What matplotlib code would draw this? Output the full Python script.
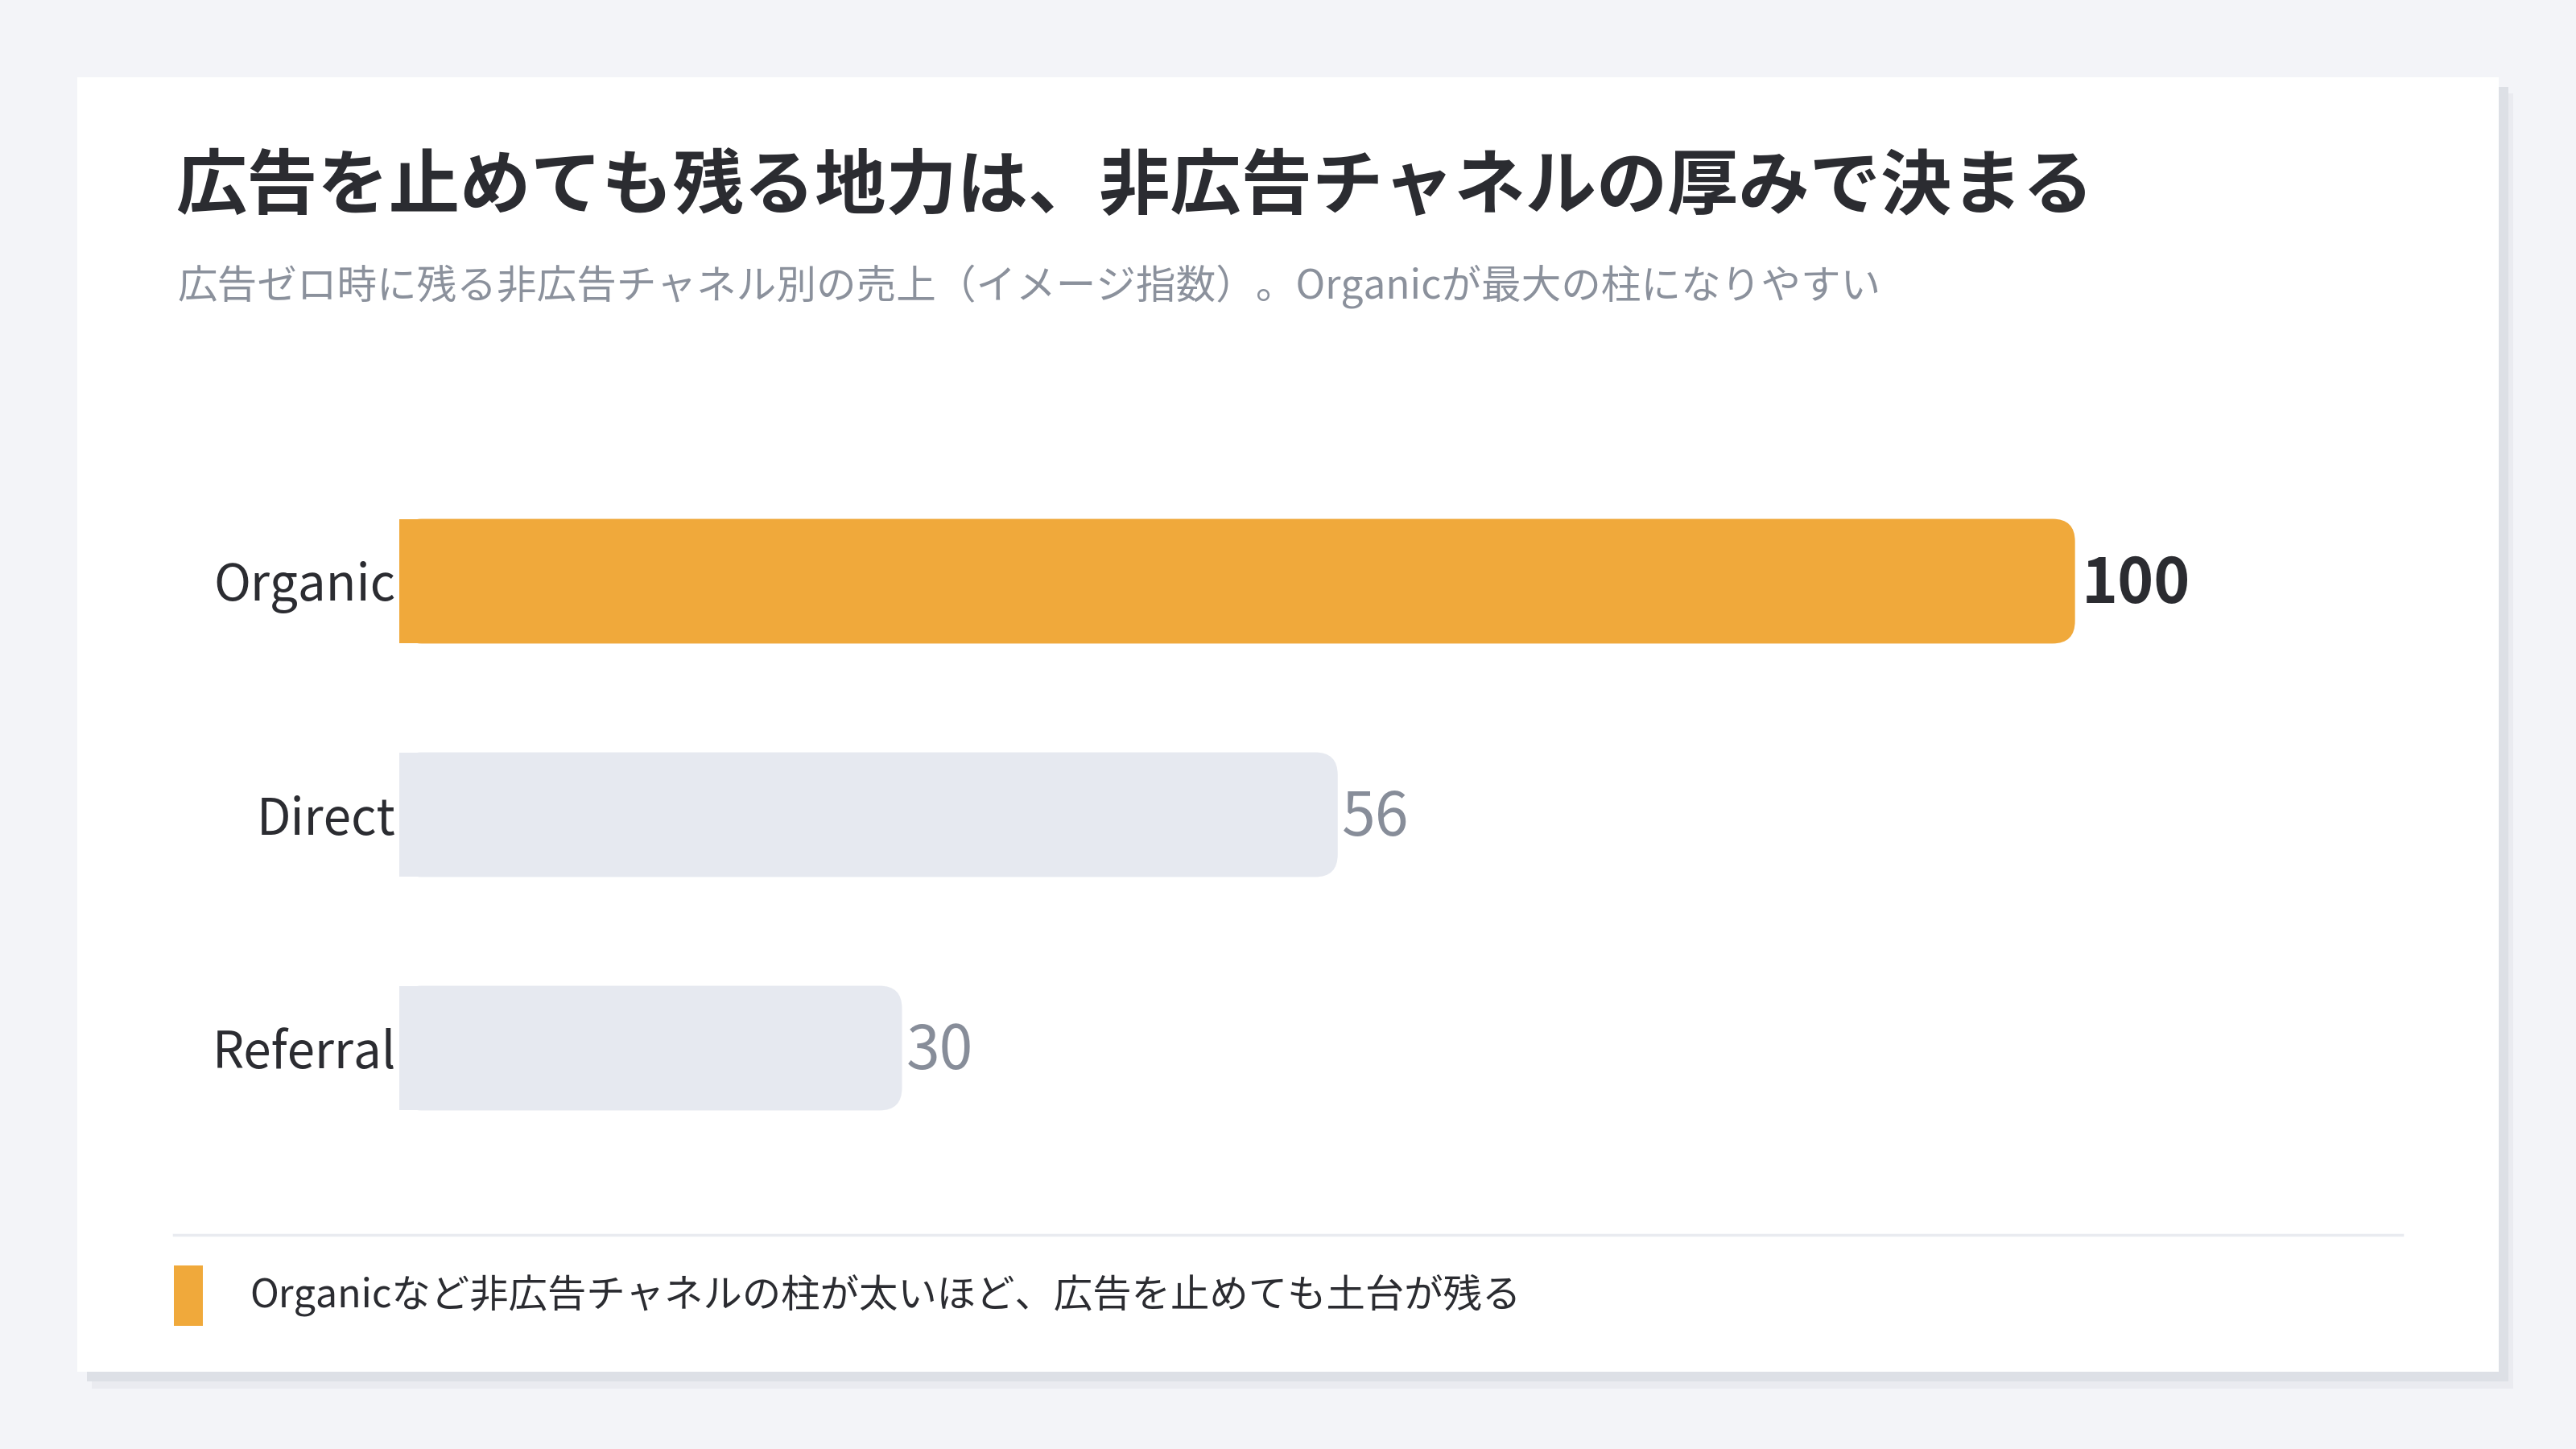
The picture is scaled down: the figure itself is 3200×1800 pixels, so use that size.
import matplotlib
matplotlib.use("Agg")
import matplotlib.pyplot as plt
from matplotlib.patches import Rectangle, FancyBboxPatch
from matplotlib.lines import Line2D

# ---- data ----
categories = ["Organic", "Direct", "Referral"]
values = [100, 56, 30]
title = "広告を止めても残る地力は、非広告チャネルの厚みで決まる"
subtitle = "広告ゼロ時に残る非広告チャネル別の売上（イメージ指数）。Organicが最大の柱になりやすい"
footer = "Organicなど非広告チャネルの柱が太いほど、広告を止めても土台が残る"

FONT = ["Noto Sans CJK JP", "DejaVu Sans"]
plt.rcParams["font.family"] = FONT

W, H = 3200, 1800
DPI = 100
fig = plt.figure(figsize=(W / DPI, H / DPI), dpi=DPI)
fig.patch.set_facecolor("#f3f4f8")

def fx(px):
    return px / W

def fy(py):
    return 1 - py / H

def frect(x0, y0, x1, y1, **kw):
    r = Rectangle((fx(x0), fy(y1)), fx(x1) - fx(x0), fy(y0) - fy(y1),
                  transform=fig.transFigure, **kw)
    fig.add_artist(r)
    return r

# card shadow + card
frect(96 + 18, 96 + 20, 3104 + 18, 1704 + 21, facecolor="#eaebf0", edgecolor="none", zorder=0)
frect(96 + 12, 96 + 12, 3104 + 12, 1704 + 12, facecolor="#dde0e6", edgecolor="none", zorder=0.5)
frect(96, 96, 3104, 1704, facecolor="white", edgecolor="none", zorder=1)

# title / subtitle
fig.text(fx(218), fy(234), title, fontsize=63.5, fontweight="bold", color="#2b2c31",
         va="center", ha="left", zorder=3)
fig.text(fx(220), fy(356), subtitle, fontsize=35.7, color="#8b919c",
         va="center", ha="left", zorder=3)

# axes for bars
ax_left, ax_right = 496, 2994
ax_top, ax_bot = 577, 1447
ax = fig.add_axes([fx(ax_left), fy(ax_bot), fx(ax_right) - fx(ax_left), fy(ax_top) - fy(ax_bot)])
ax.set_facecolor("none")
ax.set_zorder(2)
ax.set_xlim(0, 120)
ax.set_ylim(2.5, -0.5)
for s in ax.spines.values():
    s.set_visible(False)
ax.set_xticks([])
ypos = list(range(len(categories)))
ax.set_yticks(ypos)
ax.set_yticklabels(categories, fontsize=44.5, color="#2b2c31")
ax.tick_params(axis="y", length=0, pad=3)

colors = ["#f0a93b" if i == 0 else "#e6e9f0" for i in range(len(categories))]
bar_h = 0.534
bars = ax.barh(ypos, values, height=bar_h, color=colors)

# px -> data units
x_per_px = 120 / (ax_right - ax_left)
y_per_px = 3 / (ax_bot - ax_top)
radius_px = 28
rx = radius_px * x_per_px
aspect = y_per_px / x_per_px

for b, c in zip(bars, colors):
    x0, y0 = b.get_x(), b.get_y()
    w, h = b.get_width(), b.get_height()
    b.set_visible(False)
    ax.add_patch(FancyBboxPatch((x0, y0), w, h,
                                boxstyle=f"round,pad=0,rounding_size={rx}",
                                mutation_aspect=aspect, facecolor=c, edgecolor="none"))
    ax.add_patch(Rectangle((x0, y0), w - rx * 1.05, h, facecolor=c, edgecolor="none"))

for i, v in enumerate(values):
    if i == 0:
        ax.annotate(f"{v}", (v, i), xytext=(6, -3), textcoords="offset points",
                    va="center", ha="left", fontsize=55, fontweight="bold", color="#2b2c31")
    else:
        ax.annotate(f"{v}", (v, i), xytext=(4, -3), textcoords="offset points",
                    va="center", ha="left", fontsize=54, color="#878d99")

# divider
fig.add_artist(Line2D([fx(216), fx(2984)], [fy(1534), fy(1534)], transform=fig.transFigure,
                      color="#e9ebf0", linewidth=2.5, zorder=3))
# footer marker + text
frect(216, 1572, 252, 1647, facecolor="#f0a93b", edgecolor="none", zorder=3)
fig.text(fx(310), fy(1609), footer, fontsize=34.8, color="#2b2c31",
         va="center", ha="left", zorder=3)

fig.savefig("out.png", dpi=DPI, facecolor=fig.get_facecolor())
